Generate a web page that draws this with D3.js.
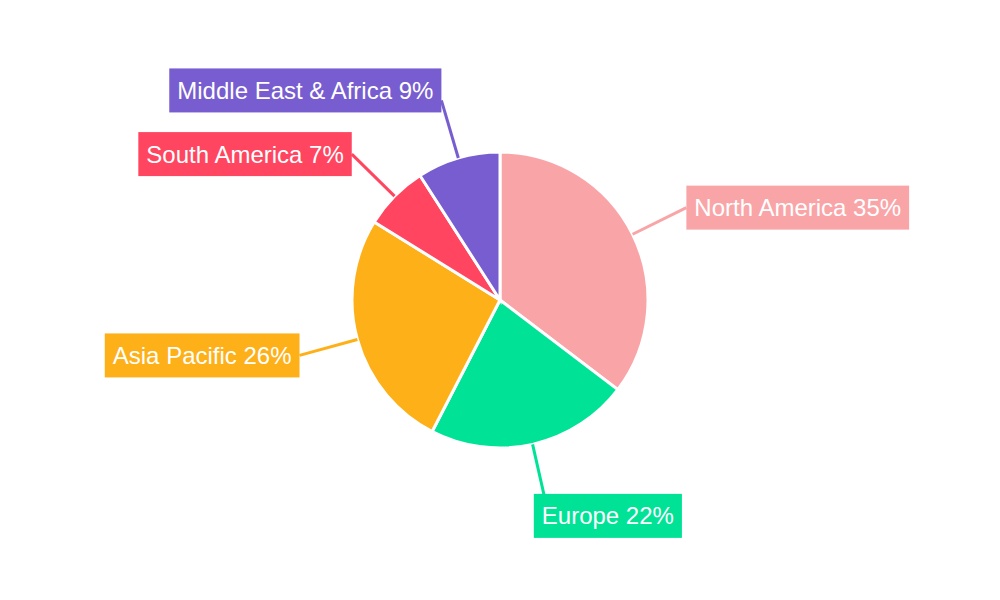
<!DOCTYPE html>
<html lang="en">
<head>
<meta charset="UTF-8">
<script src="https://d3js.org/d3.v7.min.js"></script>
<style>
  body { margin: 0; background: #fff; }
  text { font-family: "Liberation Sans", Arial, sans-serif; }
</style>
</head>
<body>
<svg width="1000" height="600"></svg>
<script>
// Data
const regions = ["North America", "Europe", "Asia Pacific", "South America", "Middle East & Africa"];
const shares = [35, 22, 26, 7, 9];
const colors = ["#F9A5A8", "#00E396", "#FEB019", "#FF4560", "#775DD0"];

const cx = 500, cy = 300, r = 148, labelR = 208;
const svg = d3.select("svg");
const g = svg.append("g").attr("transform", `translate(${cx},${cy})`);

const data = regions.map((name, i) => ({ name, value: shares[i], color: colors[i] }));
const pie = d3.pie().value(d => d.value).sort(null);
const arc = d3.arc().innerRadius(0).outerRadius(r);
const arcs = pie(data);

g.selectAll("path.slice")
  .data(arcs)
  .enter().append("path")
  .attr("class", "slice")
  .attr("d", arc)
  .attr("fill", d => d.data.color)
  .attr("stroke", "#fff")
  .attr("stroke-width", 3);

// Labels with leader lines
arcs.forEach(d => {
  const a = (d.startAngle + d.endAngle) / 2;
  const dx = Math.sin(a), dy = -Math.cos(a);
  const x0 = dx * r, y0 = dy * r;
  const x1 = dx * labelR, y1 = dy * labelR;

  g.append("line")
    .attr("x1", x0).attr("y1", y0).attr("x2", x1).attr("y2", y1)
    .attr("stroke", d.data.color).attr("stroke-width", 3);

  const lab = g.append("g");
  const rect = lab.append("rect").attr("fill", d.data.color);
  const txt = lab.append("text")
    .attr("fill", "#fff")
    .attr("font-size", 24)
    .attr("dominant-baseline", "central")
    .text(`${d.data.name} ${d.data.value}%`);
  const w = txt.node().getComputedTextLength() + 16, h = 44;

  let bx, by;
  if (Math.abs(dx) > 0.5) {
    bx = dx > 0 ? x1 : x1 - w;
    by = y1 - h / 2;
  } else {
    bx = dx > 0 ? x1 - 12 : x1 - w;
    by = dy > 0 ? y1 - 9 : y1 - h + 12;
  }
  rect.attr("x", bx).attr("y", by).attr("width", w).attr("height", h);
  txt.attr("x", bx + 8).attr("y", by + h / 2);
});
</script>
</body>
</html>
